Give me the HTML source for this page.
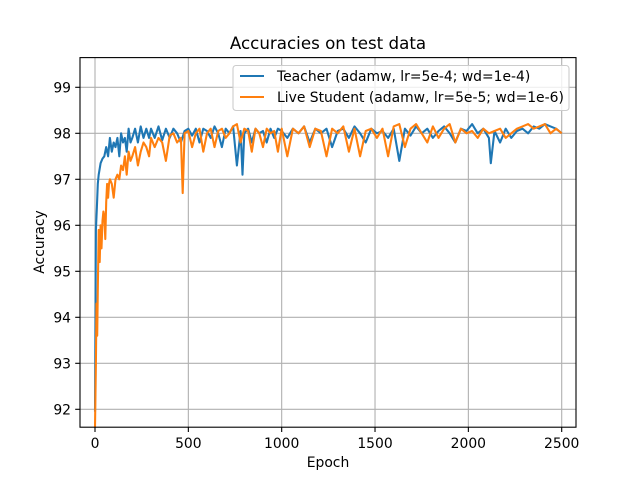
<!DOCTYPE html>
<html><head><meta charset="utf-8"><style>
body{margin:0;background:#fff}
svg text{font-family:"DejaVu Sans","Liberation Sans",sans-serif;fill:#000}
</style></head><body>
<svg id="chart" width="640" height="480" xmlns="http://www.w3.org/2000/svg">
<rect width="640" height="480" fill="#fff"/>
<text x="328" y="49" font-size="16.7" text-anchor="middle">Accuracies on test data</text>
<g id="grid"></g>
<g id="series"></g>
<rect x="80" y="57.6" width="496" height="369.6" fill="none" stroke="#000" stroke-width="1.1"/>
<g id="ticks"></g>
<text x="328" y="467" font-size="13.9" text-anchor="middle">Epoch</text>
<text transform="translate(44,242) rotate(-90)" font-size="13.9" text-anchor="middle">Accuracy</text>
<g>
<rect x="233" y="65.5" width="336" height="45" rx="3" fill="#fff" fill-opacity="0.8" stroke="#ccc" stroke-width="1.1"/>
<line x1="240" y1="76" x2="264" y2="76" stroke="#1f77b4" stroke-width="2.08"/>
<text x="277" y="81" font-size="13.9">Teacher (adamw, lr=5e-4; wd=1e-4)</text>
<line x1="240" y1="97" x2="264" y2="97" stroke="#ff7f0e" stroke-width="2.08"/>
<text x="277" y="102" font-size="13.9">Live Student (adamw, lr=5e-5; wd=1e-6)</text>
</g>
</svg>
<script>
const xTicks=[0,500,1000,1500,2000,2500];
const yTicks=[92,93,94,95,96,97,98,99];
const teacherEpochs=[0,5,10,15,20,30,40,50,60,70,80,90,100,110,120,130,140,150,160,170,180,190,200,215,230,245,260,275,290,300,320,340,360,380,400,420,440,460,480,500,520,540,560,580,600,620,640,660,680,700,720,740,760,780,790,800,820,840,860,880,900,920,940,960,980,1000,1030,1060,1090,1120,1150,1180,1210,1240,1270,1300,1330,1360,1390,1420,1450,1480,1510,1540,1570,1600,1630,1660,1690,1720,1750,1780,1810,1840,1870,1900,1930,1960,1990,2020,2050,2080,2110,2120,2140,2170,2200,2230,2260,2290,2320,2350,2380,2410,2440,2470,2500];
const teacherAcc=[91.95,95.9,96.4,96.9,97.1,97.35,97.45,97.5,97.7,97.5,97.9,97.6,97.8,97.7,97.9,97.5,98.0,97.8,97.9,97.6,98.1,97.8,97.9,98.1,97.8,98.15,97.9,98.1,97.9,98.1,97.9,98.15,97.85,98.1,97.9,98.1,98.0,97.8,98.05,98.1,97.95,98.1,97.8,98.1,98.05,97.9,98.15,98.0,97.7,98.1,98.0,98.15,97.3,98.05,97.1,98.0,98.1,97.8,98.1,98.0,98.05,97.8,98.1,97.9,98.1,98.05,97.9,98.1,98.0,98.15,97.8,98.1,98.0,98.1,97.7,98.05,98.1,97.9,98.15,98.0,97.8,98.1,98.0,98.05,97.9,98.1,97.4,98.1,97.95,98.15,98.0,98.1,97.9,98.05,98.15,98.0,97.8,98.1,98.05,98.2,98.0,98.1,97.9,97.35,98.05,97.8,98.1,97.9,98.05,98.1,98.0,98.15,98.1,98.2,98.15,98.1,98.0];
const studentEpochs=[0,5,8,12,15,20,25,30,35,40,45,50,55,60,65,70,75,80,90,100,110,120,130,140,150,160,170,180,190,200,215,230,245,260,275,290,300,320,340,360,380,400,420,440,460,470,480,500,520,540,560,580,600,620,640,660,680,700,720,740,760,780,800,820,840,860,880,900,920,940,960,980,1000,1030,1060,1090,1120,1150,1180,1210,1240,1270,1300,1330,1360,1390,1420,1450,1480,1510,1540,1570,1600,1630,1660,1690,1720,1750,1780,1810,1840,1870,1900,1930,1960,1990,2020,2050,2080,2110,2140,2170,2200,2230,2260,2290,2320,2350,2380,2410,2440,2470,2500];
const studentAcc=[91.6,93.0,94.3,93.6,94.6,95.9,95.2,96.0,95.5,96.1,96.3,96.2,95.7,96.5,96.9,96.6,96.9,97.0,96.9,96.6,97.0,97.1,97.0,97.3,97.2,97.5,97.1,97.6,97.4,97.5,97.7,97.3,97.6,97.8,97.7,97.5,97.9,97.7,97.9,97.8,97.4,97.95,98.0,97.8,97.9,96.7,98.0,98.05,97.7,98.0,98.1,97.6,98.0,98.1,97.7,98.05,98.1,97.9,98.0,98.15,98.2,97.8,98.1,98.05,97.6,98.1,98.0,97.7,98.1,98.0,98.05,97.6,98.1,97.5,98.1,98.0,98.15,97.7,98.1,98.05,97.5,98.1,98.0,98.15,97.6,98.1,97.5,98.05,98.1,97.9,98.1,97.5,98.15,98.2,97.7,98.1,98.2,98.0,97.8,98.15,97.9,98.1,98.2,97.8,98.1,98.0,98.05,97.9,98.1,98.0,98.05,98.1,97.9,98.0,98.1,98.15,98.2,98.1,98.15,98.2,98.0,98.1,98.0];
const NS='http://www.w3.org/2000/svg';
function xs(v){return 95+v*(466.7/2500);}
function ys(v){return 133.3-(v-98)*46;}
function mk(tag,attrs,parent){const e=document.createElementNS(NS,tag);for(const k in attrs)e.setAttribute(k,attrs[k]);parent.appendChild(e);return e;}
const grid=document.getElementById('grid'),ticks=document.getElementById('ticks'),series=document.getElementById('series');
xTicks.forEach(t=>{const x=xs(t);
 const g=mk('line',{x1:x,x2:x,y1:57.6,y2:427.2,stroke:'#b0b0b0','stroke-width':1.1},grid);
 
 
 mk('line',{x1:x,x2:x,y1:427.2,y2:432,stroke:'#000','stroke-width':1.1},ticks);
 const l=mk('text',{x:x,y:448,'font-size':13.9,'text-anchor':'middle'},ticks);l.textContent=t;
 
 });
yTicks.forEach(t=>{const y=ys(t);
 const g=mk('line',{x1:80,x2:576,y1:y,y2:y,stroke:'#b0b0b0','stroke-width':1.1},grid);
 
 
 mk('line',{x1:75.2,x2:80,y1:y,y2:y,stroke:'#000','stroke-width':1.1},ticks);
 const l=mk('text',{x:71,y:y+5,'font-size':13.9,'text-anchor':'end'},ticks);l.textContent=t;
 
 });
const cp=mk('clipPath',{id:'clip'},series);
mk('rect',{x:80,y:57.6,width:496,height:369.6},cp);
function draw(ep,acc,color,name){
 const d=ep.map((e,i)=>(i?'L':'M')+xs(e).toFixed(1)+','+ys(acc[i]).toFixed(1)).join('');
 const p=mk('path',{d:d,fill:'none',stroke:color,'stroke-width':2.08,'stroke-linejoin':'round','clip-path':'url(#clip)'},series);
 
 }
draw(teacherEpochs,teacherAcc,'#1f77b4','teacher-line');
draw(studentEpochs,studentAcc,'#ff7f0e','student-line');
</script>
</body></html>
